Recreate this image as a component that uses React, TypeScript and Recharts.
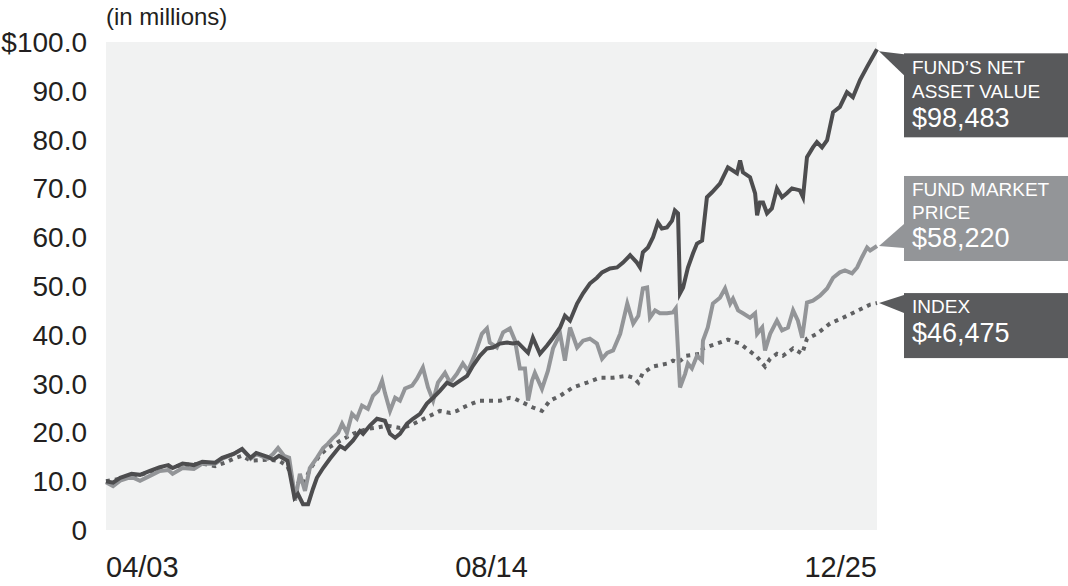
import { LineChart, Line, XAxis, YAxis, CartesianGrid, Label } from "recharts";

// x = months since 04/03, y = value in millions
const navPoints: [number, number][] = [
  [0, 10.0], [2.5, 9.7], [5, 10.7], [9, 11.5], [12, 11.3], [15.5, 12.1], [19, 12.9], [22, 13.3],
  [23.5, 12.7], [27, 13.6], [31, 13.3], [34, 14.0], [38.5, 13.8], [41, 14.8], [45, 15.6], [48, 16.6],
  [51, 14.8], [53, 15.8], [57, 15.0], [59, 14.4], [61, 15.2], [64, 14.2], [66.5, 6.6], [67.7, 7.4],
  [69.5, 5.3], [71.3, 5.3], [73, 8.4], [74.4, 10.7], [76.6, 12.7], [79, 14.6], [82.6, 17.2], [84.3, 16.6],
  [87.1, 18.3], [89.6, 20.3], [90.7, 19.7], [93.1, 21.4], [95.6, 22.8], [98.4, 22.4], [100.2, 19.7],
  [102, 18.9], [103.7, 19.7], [106.2, 21.8], [108.3, 22.8], [110.8, 23.8], [113.2, 25.9], [115.4, 27.1],
  [117.8, 28.5], [120.3, 30.2], [122.4, 29.6], [124.9, 30.6], [127.4, 31.6], [129.5, 33.7], [131.9, 35.7],
  [134.4, 37.2], [136.5, 37.4], [139, 38.2], [141.5, 38.4], [143.6, 38.2], [145.3, 38.4], [148.9, 36.3],
  [150.6, 39.4], [153.1, 36.1], [155.6, 37.8], [157.7, 39.4], [160.2, 41.5], [161.9, 43.9], [163.7, 42.9],
  [166.2, 46.4], [168.3, 48.5], [170.7, 50.5], [173.2, 51.7], [175, 52.8], [177.8, 53.6], [180.3, 53.8],
  [182.4, 54.8], [184.9, 56.3], [187.3, 54.8], [188.4, 53.8], [189.4, 56.9], [191.2, 57.9], [193, 60.0],
  [194.7, 63.0], [196.1, 61.8], [197.9, 62.0], [199.7, 63.4], [200.7, 65.5], [201.8, 64.9], [202.5, 48.5],
  [203.6, 49.7], [205.3, 53.8], [207.1, 56.7], [208.5, 58.7], [210.3, 59.3], [212, 68.2], [213.8, 69.2],
  [216.6, 71.0], [219.4, 74.3], [222.6, 73.1], [223.7, 75.7], [224.7, 73.3], [227.2, 72.3], [229, 69.0],
  [229.7, 64.5], [230.7, 67.1], [231.8, 67.1], [233.2, 64.9], [234.9, 65.9], [236.7, 70.0], [238.5, 68.2],
  [240.2, 69.0], [242, 70.0], [244.8, 69.6], [245.9, 68.2], [247.3, 76.4], [249.4, 78.4], [250.8, 79.5],
  [252.6, 78.4], [254.4, 79.9], [256.5, 85.6], [258.9, 86.7], [261.4, 89.7], [263.5, 88.7], [266, 92.2],
  [268.5, 94.9], [272, 98.5],
];

const marketPoints: [number, number][] = [
  [0, 9.8], [2.5, 9.0], [5, 10.1], [9, 10.9], [12, 10.1], [15.5, 11.1], [19, 12.1], [22, 12.3],
  [23.5, 11.5], [27, 12.7], [31, 12.5], [34, 13.6], [38.5, 13.6], [41, 14.6], [45, 15.6], [48, 16.6],
  [51, 14.6], [53, 15.6], [57, 14.6], [59, 15.6], [60.7, 16.8], [62.8, 15.2], [64.6, 14.8], [66, 9.4],
  [66.7, 6.0], [68.4, 11.5], [70.2, 8.0], [71.9, 12.7], [74.4, 14.8], [76.6, 16.8], [78.3, 17.7],
  [80.1, 18.9], [81.9, 19.9], [83.3, 21.8], [85, 19.9], [86.8, 23.8], [88.5, 22.8], [90.3, 25.5],
  [92.4, 24.8], [94.2, 27.5], [96, 28.5], [97.4, 30.6], [98.4, 28.1], [100.2, 24.4], [102, 27.1],
  [103.7, 26.5], [105.5, 29.0], [108, 29.6], [109.7, 31.0], [111.8, 33.3], [113.6, 29.2], [115.4, 26.5],
  [117.1, 30.2], [119.6, 32.2], [121.4, 30.2], [123.8, 32.0], [125.9, 34.1], [127.7, 32.6], [130.2, 36.1],
  [132.6, 40.2], [134.4, 41.3], [135.4, 38.4], [137.9, 37.4], [140.1, 40.5], [142.5, 41.3], [144.3, 38.8],
  [146, 33.1], [147.8, 33.1], [148.9, 26.5], [150.3, 30.6], [151.3, 32.2], [153.8, 28.9], [155.9, 32.6],
  [157.7, 37.2], [160.2, 40.2], [161.9, 34.7], [163.7, 41.5], [166.2, 37.4], [168.3, 38.8], [170.7, 39.2],
  [173.2, 38.2], [175, 35.1], [176.8, 36.3], [178.9, 36.8], [181.4, 40.2], [183.9, 46.4], [186, 42.3],
  [187.8, 43.9], [189.4, 49.5], [190.9, 49.7], [191.9, 43.5], [193.7, 45.0], [195.4, 44.4], [197.9, 44.4],
  [200, 44.6], [201, 45.4], [202.5, 29.2], [204.3, 32.0], [205.3, 34.1], [206.7, 33.1], [208.5, 35.7],
  [210.3, 34.7], [210.6, 38.8], [212.3, 41.5], [214.1, 46.4], [216.6, 47.6], [218.4, 49.5], [220.2, 46.4],
  [221.2, 47.4], [223, 45.0], [224.7, 44.4], [227.2, 43.5], [229, 44.4], [229.7, 40.2], [231.5, 41.5],
  [232.5, 36.8], [234.3, 40.2], [236.7, 42.9], [238.5, 40.9], [240.6, 41.5], [242.4, 45.0], [244.1, 42.9],
  [245.6, 39.4], [247.3, 46.6], [249.4, 47.0], [251.9, 48.0], [254.4, 49.5], [256.5, 51.7], [258.9, 52.8],
  [260.7, 53.2], [263.2, 52.6], [265, 53.8], [266.7, 55.9], [268.5, 57.9], [269.6, 57.3], [272, 58.2],
];

const indexPoints: [number, number][] = [
  [0, 10.0], [5, 10.5], [12, 11.3], [19, 12.5], [27, 13.3], [34, 13.6], [38.5, 13.1], [42, 13.8],
  [45, 14.6], [48, 15.2], [51, 14.2], [57, 14.4], [61, 14.2], [64, 13.1], [65.6, 10.7], [67.4, 10.1],
  [69.5, 9.2], [72, 12.5], [75.5, 15.4], [78.3, 16.8], [82.6, 18.3], [87.1, 19.7], [92.1, 20.7],
  [95.6, 21.0], [99.2, 21.4], [103.7, 20.9], [107.2, 21.4], [110.8, 22.4], [114.3, 23.4], [117.8, 24.4],
  [121.4, 24.0], [123.8, 24.4], [125.9, 25.1], [129.1, 25.9], [131.9, 26.5], [134.4, 26.5], [139, 26.5],
  [142.5, 27.1], [144.3, 26.9], [147.1, 26.1], [150.6, 25.1], [153.8, 24.4], [156.6, 26.5], [160.2, 27.5],
  [164.7, 29.2], [169.7, 30.2], [174.3, 31.2], [178.9, 31.2], [183.9, 31.6], [186, 31.2], [187.8, 30.2],
  [189.4, 32.2], [193, 33.5], [197.9, 34.1], [200, 34.7], [201.8, 34.3], [204.7, 35.7], [209.6, 36.1],
  [210.6, 37.2], [215.5, 38.2], [219.4, 39.0], [223.7, 38.2], [227.2, 36.6], [229.7, 35.5], [232.5, 33.5],
  [234.3, 35.1], [236.7, 36.1], [238.8, 35.7], [242.4, 37.2], [245.6, 36.1], [247.3, 39.2], [250.8, 40.2],
  [255.4, 42.3], [260, 43.5], [265, 44.9], [269.6, 46.2], [272, 46.5],
];

const xTicks = [0, 136, 272];
const xTickLabels = ["04/03", "08/14", "12/25"];
const yTicks = [0, 10, 20, 30, 40, 50, 60, 70, 80, 90, 100];

const navLabel = ["FUND\u2019S NET", "ASSET VALUE", "$98,483"];
const marketLabel = ["FUND MARKET", "PRICE", "$58,220"];
const indexLabel = ["INDEX", "$46,475"];

const FONT = "'Liberation Sans', Arial, sans-serif";
const TEXT = "#231f20";

const toRows = (pts: [number, number][]) => pts.map(([m, v]) => ({ m, v }));
const navData = toRows(navPoints);
const marketData = toRows(marketPoints);
const indexData = toRows(indexPoints);

function DateTick(props: any) {
  const { x, y, index } = props;
  const anchor = index === 0 ? "start" : index === xTicks.length - 1 ? "end" : "middle";
  return (
    <text x={x} y={y} dy={41} textAnchor={anchor} fontFamily={FONT} fontSize={29} fill={TEXT}>
      {xTickLabels[index]}
    </text>
  );
}

function ValueTick(props: any) {
  const { x, y, payload } = props;
  const v = payload.value;
  const s = v === 100 ? "$100.0" : v === 0 ? "0" : v.toFixed(1);
  return (
    <text x={x} y={y} dy={10} textAnchor="end" fontFamily={FONT} fontSize={28} fill={TEXT}>
      {s}
    </text>
  );
}

// callout box at the end of a series
function makeCallout(lines: string[], fill: string, len: number, kind: "nav" | "market" | "index") {
  return (p: any) => {
    if (p.index !== len - 1) return null;
    const x = p.x as number;
    const y = p.y as number;
    const bx = x + 27;
    let top = y + 4, h = 84, tri = `${x + 2},${y + 2} ${bx},${y + 5} ${bx},${y + 26}`;
    let base = [y + 25, y + 49, y + 78];
    if (kind === "market") {
      top = y - 70; h = 85;
      tri = `${x + 2},${y} ${bx},${y - 22} ${bx},${y + 2}`;
      base = [y - 50, y - 27, y + 1];
    } else if (kind === "index") {
      top = y - 10; h = 65;
      tri = `${x + 2},${y} ${bx},${y - 8} ${bx},${y + 10}`;
      base = [y + 10, y + 39];
    }
    return (
      <g>
        <polygon points={tri} fill={fill} />
        <rect x={bx} y={top} width={170} height={h} fill={fill} />
        {lines.map((t, i) => {
          const big = i === lines.length - 1;
          return (
            <text key={i} x={bx + 8} y={base[i]} fontFamily={FONT} fontSize={big ? 27 : 19} fill="#ffffff">
              {t}
            </text>
          );
        })}
      </g>
    );
  };
}

export default function App() {
  return (
    <div style={{ position: "absolute", left: 0, top: 0 }}>
      <LineChart width={1068} height={586} margin={{ top: 42, right: 191, bottom: 0, left: 0 }}>
        <CartesianGrid horizontal={false} vertical={false} fill="#f1f2f2" />
        <XAxis
          dataKey="m"
          type="number"
          domain={[0, 272]}
          ticks={xTicks}
          height={56}
          axisLine={false}
          tickLine={false}
          tickSize={6}
          tickMargin={0}
          tick={<DateTick />}
          allowDuplicatedCategory={false}
        />
        <YAxis
          type="number"
          domain={[0, 100]}
          ticks={yTicks}
          width={106}
          axisLine={false}
          tickLine={false}
          tickSize={6}
          tickMargin={13}
          tick={<ValueTick />}
        >
          <Label
            content={() => (
              <text x={106} y={25} fontFamily={FONT} fontSize={24} fill={TEXT}>
                (in millions)
              </text>
            )}
          />
        </YAxis>
        <Line
          data={indexData}
          dataKey="v"
          type="linear"
          stroke="#5f6062"
          strokeWidth={4}
          strokeDasharray="4 5"
          dot={false}
          isAnimationActive={false}
          label={makeCallout(indexLabel, "#5a5b5d", indexData.length, "index")}
        />
        <Line
          data={marketData}
          dataKey="v"
          type="linear"
          stroke="#939598"
          strokeWidth={4}
          dot={false}
          isAnimationActive={false}
          label={makeCallout(marketLabel, "#939598", marketData.length, "market")}
        />
        <Line
          data={navData}
          dataKey="v"
          type="linear"
          stroke="#4d4d4f"
          strokeWidth={4}
          dot={false}
          isAnimationActive={false}
          label={makeCallout(navLabel, "#58595b", navData.length, "nav")}
        />
      </LineChart>
    </div>
  );
}
